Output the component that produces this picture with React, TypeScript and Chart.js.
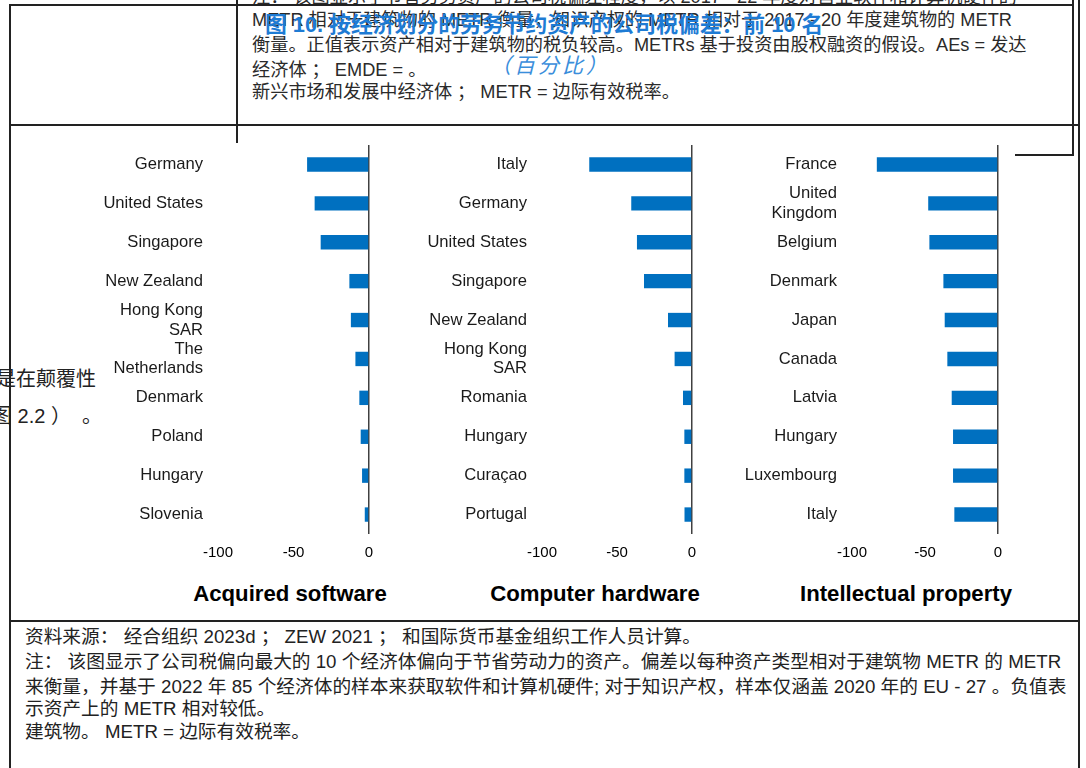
import React, { useEffect, useRef } from "react";
import { Chart, registerables } from "chart.js";

Chart.register(...registerables);

// ---------- data ----------
const softwareCountries: (string | string[])[] = [
  "Germany", "United States", "Singapore", "New Zealand", ["Hong Kong", "SAR"],
  ["The", "Netherlands"], "Denmark", "Poland", "Hungary", "Slovenia",
];
const softwareValues = [-41, -36, -32, -13, -12, -9, -6.4, -5.5, -4.6, -2.8];

const hardwareCountries: (string | string[])[] = [
  "Italy", "Germany", "United States", "Singapore", "New Zealand", ["Hong Kong", "SAR"],
  "Romania", "Hungary", "Curaçao", "Portugal",
];
const hardwareValues = [-68.5, -40.5, -36.7, -32, -16, -11.6, -6, -5.1, -5.1, -5];

const ipCountries: (string | string[])[] = [
  "France", ["United", "Kingdom"], "Belgium", "Denmark", "Japan", "Canada",
  "Latvia", "Hungary", "Luxembourg", "Italy",
];
const ipValues = [-83, -47.8, -47, -37.4, -36.5, -34.7, -31.7, -30.8, -30.8, -29.9];

const xTicks = [-100, -50, 0];
const panelTitles = ["Acquired software", "Computer hardware", "Intellectual property"];

const figureTitle = "图 10. 按经济划分的劳务节约资产的公司税偏差：前 10 名";
const figureSubtitle = "（百分比）";

const topNoteLines = [
  "注： 该图显示了节省劳务资产的公司税偏差程度，以 2017 - 22 年度对营业软件和计算机硬件的",
  "METR 相对于建筑物的 METR 衡量，知识产权的 METR 相对于 2017 - 20 年度建筑物的 METR",
  "衡量。正值表示资产相对于建筑物的税负较高。METRs 基于投资由股权融资的假设。AEs = 发达",
  "经济体 ； EMDE = 。",
  "新兴市场和发展中经济体 ； METR = 边际有效税率。",
];

const bottomNoteLines = [
  "资料来源： 经合组织 2023d ； ZEW 2021 ； 和国际货币基金组织工作人员计算。",
  "注： 该图显示了公司税偏向最大的 10 个经济体偏向于节省劳动力的资产。偏差以每种资产类型相对于建筑物 METR 的 METR",
  "来衡量，并基于 2022 年 85 个经济体的样本来获取软件和计算机硬件; 对于知识产权，样本仅涵盖 2020 年的 EU - 27 。负值表",
  "示资产上的 METR 相对较低。",
  "建筑物。 METR = 边际有效税率。",
];

const FONT = "'Liberation Sans', Arial, 'Noto Sans CJK SC', sans-serif";
const CJK = "'Liberation Sans', 'Noto Sans CJK SC', sans-serif";

type PanelProps = {
  labels: (string | string[])[];
  values: number[];
  left: number;
  width: number;
  yWidth: number;
  padRight: number;
};

function Panel({ labels, values, left, width, yWidth, padRight }: PanelProps) {
  const ref = useRef<HTMLCanvasElement>(null);
  useEffect(() => {
    if (!ref.current) return;
    const chart = new Chart(ref.current, {
      type: "bar",
      data: {
        labels,
        datasets: [
          {
            data: values,
            backgroundColor: "#0070C0",
            barPercentage: 0.37,
            categoryPercentage: 1,
          },
        ],
      },
      options: {
        indexAxis: "y",
        animation: false,
        responsive: false,
        maintainAspectRatio: false,
        layout: { padding: { top: 5, right: padRight, left: 0, bottom: 0 } },
        plugins: {
          legend: { display: false },
          tooltip: { enabled: false },
          title: { display: false },
        },
        scales: {
          x: {
            type: "linear",
            min: -100,
            max: 0,
            afterBuildTicks: (s: any) => {
              s.ticks = xTicks.map((v) => ({ value: v }));
            },
            grid: {
              drawTicks: false,
              tickLength: 0,
              lineWidth: 1.5,
              color: (c: any) => (c.tick && c.tick.value === 0 ? "#404040" : "rgba(0,0,0,0)"),
            },
            border: { display: false },
            ticks: { padding: 10, color: "#000", font: { family: FONT, size: 15 } },
            afterFit: (s: any) => {
              s.height = 40;
            },
          },
          y: {
            grid: { display: false, drawTicks: false, tickLength: 0 },
            border: { display: false },
            ticks: { padding: 15, autoSkip: false, color: "#1a1a1a", font: { family: FONT, size: 16.6 } },
            afterFit: (s: any) => {
              s.width = yWidth;
              s.paddingTop = 0;
              s.paddingBottom = 0;
            },
          },
        },
      },
    } as any);
    return () => chart.destroy();
  }, []);
  return (
    <canvas
      ref={ref}
      width={width}
      height={434}
      style={{ position: "absolute", left, top: 140, width, height: 434 }}
    />
  );
}

const line = (x: number, y: number, w: number, h: number) => (
  <div style={{ position: "absolute", left: x, top: y, width: w, height: h, background: "#222" }} />
);

const titleCenters = [290, 595, 906];

export default function App() {
  return (
    <div
      style={{
        position: "fixed",
        left: 0,
        top: 0,
        width: 1086,
        height: 768,
        background: "#fff",
        overflow: "hidden",
        fontFamily: CJK,
      }}
    >
      {/* background text fragments */}
      <div style={{ position: "absolute", left: -4, top: 363, fontSize: 20, color: "#222", whiteSpace: "nowrap" }}>
        是在颠覆性
      </div>
      <div style={{ position: "absolute", left: -8, top: 400, fontSize: 20, color: "#222", whiteSpace: "nowrap" }}>
        图 2.2 ）&nbsp;&nbsp;。
      </div>

      {/* top note block */}
      {topNoteLines.map((t, i) => (
        <div
          key={i}
          style={{
            position: "absolute",
            left: 252,
            top: [-15, 8, 33, 58, 80][i],
            height: 24,
            lineHeight: "24px",
            fontSize: 18.2,
            color: "#2a2a2a",
            whiteSpace: "nowrap",
          }}
        >
          {t}
        </div>
      ))}

      {/* figure title */}
      <div
        style={{
          position: "absolute",
          left: 265,
          top: 11,
          fontSize: 21.8,
          lineHeight: "28px",
          fontWeight: "bold",
          color: "#1E7BD4",
          whiteSpace: "nowrap",
        }}
      >
        {figureTitle}
      </div>
      <div
        style={{
          position: "absolute",
          left: 490,
          top: 52,
          fontSize: 21,
          lineHeight: "28px",
          letterSpacing: 3,
          fontStyle: "italic",
          color: "#3A8EDB",
          whiteSpace: "nowrap",
        }}
      >
        {figureSubtitle}
      </div>

      {/* table lines */}
      {line(9, 4, 1064, 2)}
      {line(9, 4, 2, 764)}
      {line(9, 124, 1071, 2)}
      {line(236, 0, 2, 143)}
      {line(1072, 0, 2, 156)}
      {line(1015, 154, 59, 2)}
      {line(1078, 0, 2, 768)}
      {line(9, 620, 1071, 2)}

      {/* panels */}
      <Panel labels={softwareCountries} values={softwareValues} left={90} width={400} yWidth={128} padRight={121} />
      <Panel labels={hardwareCountries} values={hardwareValues} left={415} width={360} yWidth={127} padRight={83} />
      <Panel labels={ipCountries} values={ipValues} left={740} width={334} yWidth={112} padRight={76} />

      {panelTitles.map((t, i) => (
        <div
          key={"t" + i}
          style={{
            position: "absolute",
            left: titleCenters[i] - 150,
            width: 300,
            top: 580,
            lineHeight: "28px",
            textAlign: "center",
            fontFamily: FONT,
            fontWeight: "bold",
            fontSize: 22.2,
            color: "#000",
            whiteSpace: "nowrap",
          }}
        >
          {t}
        </div>
      ))}

      {/* bottom note */}
      {bottomNoteLines.map((t, i) => (
        <div
          key={"b" + i}
          style={{
            position: "absolute",
            left: 25,
            top: [625, 650, 675, 697, 720][i],
            height: 24,
            lineHeight: "24px",
            fontSize: 18.7,
            color: "#222",
            whiteSpace: "nowrap",
          }}
        >
          {t}
        </div>
      ))}
    </div>
  );
}
